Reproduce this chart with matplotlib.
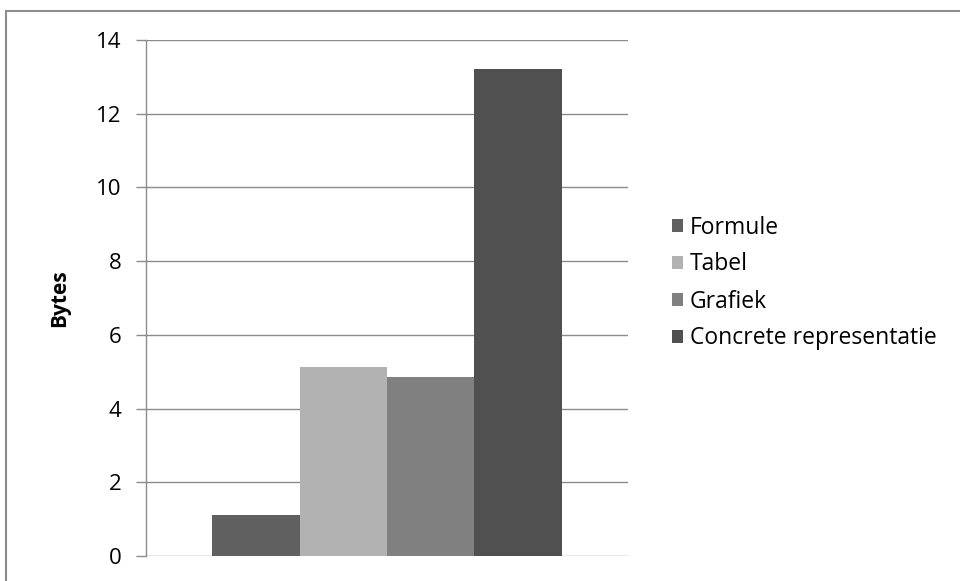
import matplotlib
matplotlib.use("Agg")
import matplotlib.pyplot as plt
from matplotlib.patches import Rectangle

series = ["Formule", "Tabel", "Grafiek", "Concrete representatie"]
values = [1.12, 5.12, 4.87, 13.2]
colors = ["#606060", "#b2b2b2", "#808080", "#505050"]
yticks = [0, 2, 4, 6, 8, 10, 12, 14]

plt.rcParams['font.family'] = ['Open Sans', 'DejaVu Sans']

W, H = 960, 581
fig = plt.figure(figsize=(W/100, H/100), dpi=100)

# chart border (cropped on right and bottom)
fig.patches.append(Rectangle((6/W, -0.1), 1.2, 1 - 11/H + 0.1, transform=fig.transFigure,
                             fill=False, edgecolor="#8c8c8c", linewidth=1.5))

ax = fig.add_axes([146/W, 25/H, 482/W, 516/H])
bw = 0.1815
for i, (s, v, c) in enumerate(zip(series, values, colors)):
    ax.bar((i - 1.5) * bw, v, width=bw, color=c, label=s, zorder=3)

ax.set_xlim(-0.5, 0.5)
ax.set_ylim(0, 14)
ax.set_yticks(yticks)
ax.yaxis.grid(True, color="#8c8c8c", linewidth=1.0, zorder=0)
ax.set_xticks([])
for sp in ["top", "right", "bottom"]:
    ax.spines[sp].set_visible(False)
ax.spines["left"].set_color("#8c8c8c")
ax.spines["left"].set_linewidth(1.0)
ax.tick_params(axis="y", length=7, width=1.0, color="#8c8c8c", labelsize=16, pad=10.5,
               labelcolor="#000000")
ax.set_ylabel("Bytes", fontsize=15, fontweight="bold", va="center")
ax.yaxis.set_label_coords((60 - 146) / 482, 0.5)

def make_legend(ls):
    return ax.legend(loc="center left", bbox_to_anchor=(672/W, 1 - 283/H),
                     bbox_transform=fig.transFigure, frameon=False, fontsize=16.5,
                     handlelength=0.5, handleheight=0.5, handletextpad=0.28,
                     labelspacing=ls, borderpad=0, borderaxespad=0)

target = 37.0
ls = 0.3
for _ in range(4):
    leg = make_legend(ls)
    fig.canvas.draw()
    r = fig.canvas.get_renderer()
    ys = [t.get_window_extent(r).y0 for t in leg.get_texts()]
    sp = (ys[0] - ys[-1]) / 3.0
    ls += (target - sp) / (16.5 * 100 / 72)

fig.savefig("out.png", dpi=100)
